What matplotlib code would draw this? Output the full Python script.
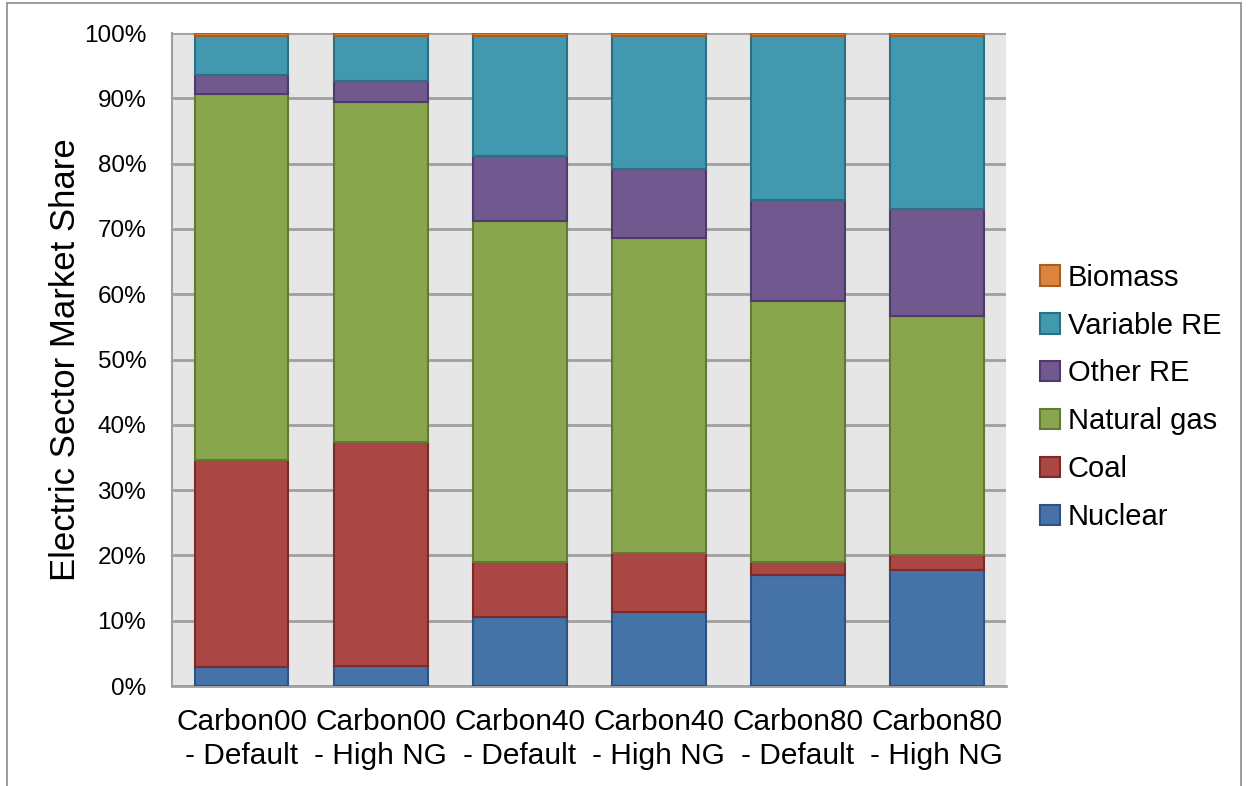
import matplotlib
matplotlib.use("Agg")
import matplotlib.pyplot as plt
from matplotlib.patches import Rectangle
from matplotlib.ticker import FuncFormatter, MultipleLocator
import numpy as np

plt.rcParams['font.family'] = ['Liberation Sans', 'DejaVu Sans']

scenarios = ["Carbon00\n- Default", "Carbon00\n- High NG",
             "Carbon40\n- Default", "Carbon40\n- High NG",
             "Carbon80\n- Default", "Carbon80\n- High NG"]

# Market share by technology (%), bottom to top of each stack
nuclear     = [2.9, 3.1, 10.5, 11.3, 17.0, 17.8]
coal        = [31.7, 34.3, 8.5, 9.1, 2.0, 2.3]
natural_gas = [56.0, 52.1, 52.2, 48.2, 40.0, 36.6]
other_re    = [2.9, 3.1, 9.9, 10.5, 15.5, 16.4]
variable_re = [6.0, 6.9, 18.4, 20.4, 25.0, 26.4]
biomass     = [0.5, 0.5, 0.5, 0.5, 0.5, 0.5]

series = [
    ("Nuclear", nuclear, "#4572A7", "#2F5183"),
    ("Coal", coal, "#AA4643", "#7D2B29"),
    ("Natural gas", natural_gas, "#89A54E", "#617A34"),
    ("Other RE", other_re, "#71588F", "#4E3B68"),
    ("Variable RE", variable_re, "#4198AF", "#2A7083"),
    ("Biomass", biomass, "#DB843D", "#A65E22"),
]

fig = plt.figure(figsize=(12.49, 7.86), dpi=100)
ax = fig.add_axes([0.1377, 0.1272, 0.668, 0.8308])
ax.set_facecolor("#E6E6E6")

x = np.arange(len(scenarios))
bottom = np.zeros(len(scenarios))
handles = []
for name, vals, fc, ec in series:
    vals = np.array(vals) / 100.0
    b = ax.bar(x, vals, width=0.675, bottom=bottom, color=fc,
               edgecolor=ec, linewidth=1.5, label=name, zorder=3)
    handles.append(b)
    bottom += vals

ax.set_xlim(-0.5, len(scenarios) - 0.5)
ax.set_ylim(0, 1.0)
ax.yaxis.set_major_locator(MultipleLocator(0.1))
ax.yaxis.set_major_formatter(FuncFormatter(lambda v, p: f"{v*100:.0f}%"))
ax.grid(axis="y", color="#A0A0A0", linewidth=2, zorder=0)
ax.set_axisbelow(True)

for s in ["top", "right"]:
    ax.spines[s].set_visible(False)
ax.spines["left"].set_color("#A0A0A0")
ax.spines["left"].set_linewidth(1.5)
ax.spines["bottom"].set_color("#A0A0A0")
ax.spines["bottom"].set_linewidth(2)

ax.tick_params(axis="both", length=0)
ax.tick_params(axis="y", labelsize=17.5, pad=18.5)
ax.set_xticks(x)
ax.set_xticklabels(scenarios, fontsize=21.5, linespacing=1.25)
ax.tick_params(axis="x", pad=16)

ax.set_ylabel("Electric Sector Market Share", fontsize=25)
ax.yaxis.set_label_coords(-0.108, 0.5)

leg = ax.legend(handles[::-1], [s[0] for s in series][::-1],
                loc="center left", bbox_to_anchor=(1.009, 0.442),
                frameon=False, fontsize=21, handlelength=0.7,
                handleheight=0.7, handletextpad=0.25, labelspacing=0.68)

# outer chart frame
fig.patches.append(Rectangle((7 / 1249, -0.02), 1234 / 1249, 1.02 - 3 / 786,
                             transform=fig.transFigure, fill=False,
                             edgecolor="#8C8C8C", linewidth=1.2))

fig.savefig("out.png", dpi=100)
